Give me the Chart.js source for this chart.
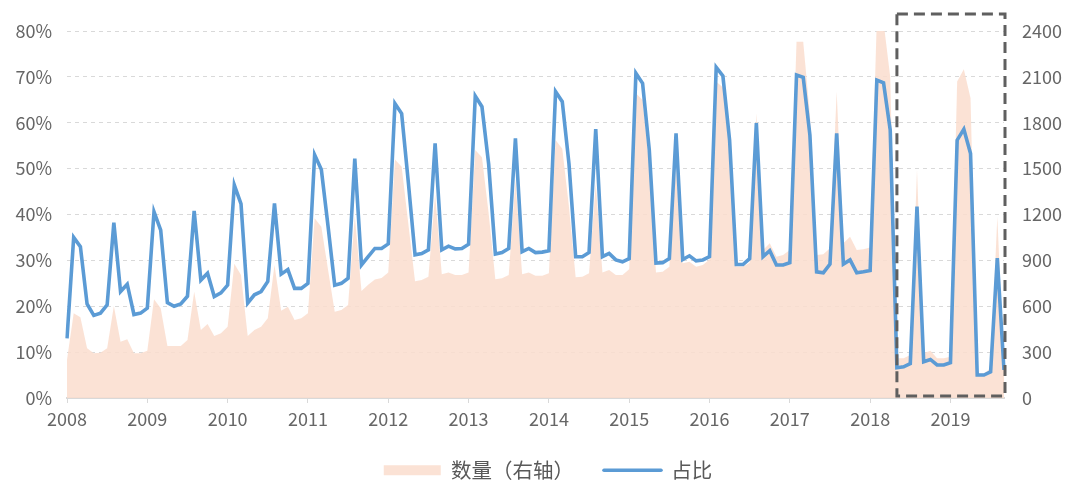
<!DOCTYPE html>
<html>
<head>
<meta charset="utf-8">
<script src="https://cdn.jsdelivr.net/npm/chart.js@4.4.1/dist/chart.umd.min.js"></script>
<style>
  html, body { margin: 0; padding: 0; background: #ffffff; }
  #wrap { width: 1080px; height: 492px; }
</style>
</head>
<body>
<div id="wrap"><canvas id="c" width="1080" height="492"></canvas></div>
<script>
// ---- categories ----
const years = ['2008','2009','2010','2011','2012','2013','2014','2015','2016','2017','2018','2019'];
const monthNames = ['01','02','03','04','05','06','07','08','09','10','11','12'];

// ---- series: 占比 (%) monthly, Jan 2008 – Sep 2019 ----
const share = [
  13.0, 35.0, 33.0, 20.5, 18.0, 18.5, 20.3, 38.2, 23.2, 24.8, 18.2, 18.5,
  19.6, 40.6, 36.6, 20.8, 20.0, 20.5, 22.2, 40.8, 25.7, 27.2, 22.1, 22.9,
  24.6, 46.4, 42.3, 20.7, 22.5, 23.2, 25.4, 42.4, 27.0, 28.0, 23.9, 23.9,
  25.0, 53.0, 49.8, 37.5, 24.6, 25.0, 26.1, 52.2, 29.0, 30.8, 32.6, 32.6,
  33.6, 64.2, 62.0, 47.0, 31.2, 31.5, 32.3, 55.5, 32.3, 33.1, 32.5, 32.6,
  33.5, 65.8, 63.5, 51.0, 31.4, 31.7, 32.6, 56.6, 31.9, 32.6, 31.7, 31.8,
  32.1, 66.8, 64.6, 51.1, 30.8, 30.8, 31.7, 58.6, 30.8, 31.5, 30.1, 29.7,
  30.4, 70.8, 68.6, 54.1, 29.4, 29.5, 30.4, 57.7, 30.2, 31.0, 29.9, 30.1,
  30.8, 72.1, 70.2, 56.2, 29.1, 29.1, 30.4, 59.9, 30.8, 32.1, 29.0, 29.0,
  29.5, 70.4, 69.9, 57.3, 27.5, 27.3, 29.2, 57.7, 29.2, 30.1, 27.3, 27.5,
  27.8, 69.3, 68.7, 58.4,  6.6,  6.8,  7.5, 41.7,  7.9,  8.4,  7.2,  7.2,
   7.7, 56.2, 58.6, 53.3,  5.0,  5.0,  5.7, 30.5,  6.1
];

// ---- series: 数量 (right axis) monthly ----
const count = [
   250,  554,  528,  325,  292,  296,  325,  602,  368,  384,  292,  292,
   309,  645,  587,  340,  340,  340,  379,  695,  445,  484,  405,  423,
   466,  878,  804,  405,  445,  466,  521,  870,  571,  597,  510,  521,
   554, 1175, 1120,  840,  564,  575,  608, 1190,  700,  740,  775,  785,
   820, 1560, 1513, 1140,  763,  772,  793, 1330,  809,  820,  804,  804,
   820, 1622, 1575, 1208,  776,  783,  804, 1426,  809,  820,  800,  800,
   815, 1687, 1630, 1251,  790,  793,  815, 1400,  820,  837,  804,  804,
   842, 1993, 1949, 1520,  820,  826,  859, 1520,  881,  891,  859,  870,
   905, 2069, 2030, 1620,  860,  860,  885, 1862,  968, 1012,  924,  935,
   968, 2330, 2330, 1850,  935,  940,  979, 2003, 1012, 1055,  968,  972,
   985, 2480, 2460, 2100,  260,  260,  281, 1491,  292,  309,  260,  260,
   270, 2069, 2150, 1960,  161,  161,  194, 1186,  200
];

// ---- tick labels ----
const leftTicks = [0, 10, 20, 30, 40, 50, 60, 70, 80];
const rightTicks = [0, 300, 600, 900, 1200, 1500, 1800, 2100, 2400];
const seriesNames = ['数量（右轴）', '占比'];
const highlightStart = '2018-05';

const categories = [];
years.forEach(y => monthNames.forEach(m => categories.push(y + '-' + m)));
categories.length = share.length;

const FONT = '"Noto Sans CJK SC", "Noto Sans", sans-serif';
const AREA = 'rgba(250,221,206,0.85)';
const AREA_SOLID = '#FBE2D5';
const LINE = '#5B9BD5';
const TXT = '#666666';

const highlightBox = {
  id: 'highlightBox',
  afterLayout(chart) {
    // nudge the legend row slightly right, as in the original
    if (chart.legend) { chart.legend.left += 8; chart.legend.right += 8; }
  },
  afterDatasetsDraw(chart) {
    const xs = chart.scales.x, a = chart.chartArea, ctx = chart.ctx;
    const x0 = xs.getPixelForValue(categories.indexOf(highlightStart));
    const x1 = a.right + 1;
    const y0 = a.top - 17, y1 = a.bottom - 2;
    ctx.save();
    ctx.strokeStyle = '#5f5f5f';
    ctx.lineWidth = 3;
    ctx.setLineDash([11, 6]);
    ctx.strokeRect(x0, y0, x1 - x0, y1 - y0);
    ctx.restore();
  }
};

new Chart(document.getElementById('c'), {
  type: 'line',
  data: {
    labels: categories,
    datasets: [
      {
        label: seriesNames[0],
        data: count,
        yAxisID: 'y1',
        backgroundColor: AREA,
        borderColor: AREA,
        borderWidth: 0,
        fill: 'origin',
        pointRadius: 0,
        tension: 0,
        order: 2
      },
      {
        label: seriesNames[1],
        data: share,
        yAxisID: 'y',
        borderColor: LINE,
        backgroundColor: LINE,
        borderWidth: 3.6,
        fill: false,
        pointRadius: 0,
        tension: 0,
        order: 1
      }
    ]
  },
  options: {
    responsive: false,
    animation: false,
    devicePixelRatio: 1,
    layout: { padding: { top: 31, bottom: 1.5, left: 0, right: 0 } },
    plugins: {
      tooltip: { enabled: false },
      legend: {
        position: 'bottom',
        labels: {
          usePointStyle: true,
          pointStyleWidth: 57,
          boxHeight: 10,
          padding: 30,
          color: '#595959',
          font: { family: FONT, size: 20.5 },
          generateLabels() {
            return [
              { text: seriesNames[0], fillStyle: AREA_SOLID, strokeStyle: AREA_SOLID, lineWidth: 0, pointStyle: 'rect', datasetIndex: 0, hidden: false, fontColor: '#595959' },
              { text: seriesNames[1], fillStyle: LINE, strokeStyle: LINE, lineWidth: 3.6, lineCap: 'round', pointStyle: 'line', datasetIndex: 1, hidden: false, fontColor: '#595959' }
            ];
          }
        }
      }
    },
    scales: {
      x: {
        type: 'category',
        offset: false,
        afterFit(s) { s.height = 32; },
        border: { display: true, color: '#d9d9d9', width: 2 },
        grid: {
          drawOnChartArea: false,
          drawTicks: true,
          tickLength: 5,
          color: (c) => (categories[c.index] && categories[c.index].endsWith('-01')) ? '#d9d9d9' : 'rgba(0,0,0,0)'
        },
        ticks: {
          autoSkip: false,
          maxRotation: 0,
          minRotation: 0,
          padding: 5,
          color: TXT,
          font: { family: FONT, size: 18 },
          callback: (v, i) => categories[i].endsWith('-01') ? categories[i].slice(0, 4) : ''
        }
      },
      y: {
        position: 'left',
        min: leftTicks[0],
        max: leftTicks[leftTicks.length - 1],
        afterFit(s) { s.width = 67; },
        afterBuildTicks(s) { s.ticks = leftTicks.map(v => ({ value: v })); },
        border: { display: false, dash: [4, 4] },
        grid: { color: '#d9d9d9', lineWidth: 1, drawTicks: false },
        ticks: {
          padding: 15,
          color: TXT,
          font: { family: FONT, size: 18 },
          callback: (v) => v + '%'
        }
      },
      y1: {
        position: 'right',
        min: rightTicks[0],
        max: rightTicks[rightTicks.length - 1],
        afterFit(s) { s.width = 76; },
        afterBuildTicks(s) { s.ticks = rightTicks.map(v => ({ value: v })); },
        border: { display: false },
        grid: { drawOnChartArea: false, drawTicks: false },
        ticks: {
          padding: 18,
          color: TXT,
          font: { family: FONT, size: 18 },
          callback: (v) => String(v)
        }
      }
    }
  },
  plugins: [highlightBox]
});
</script>
</body>
</html>
